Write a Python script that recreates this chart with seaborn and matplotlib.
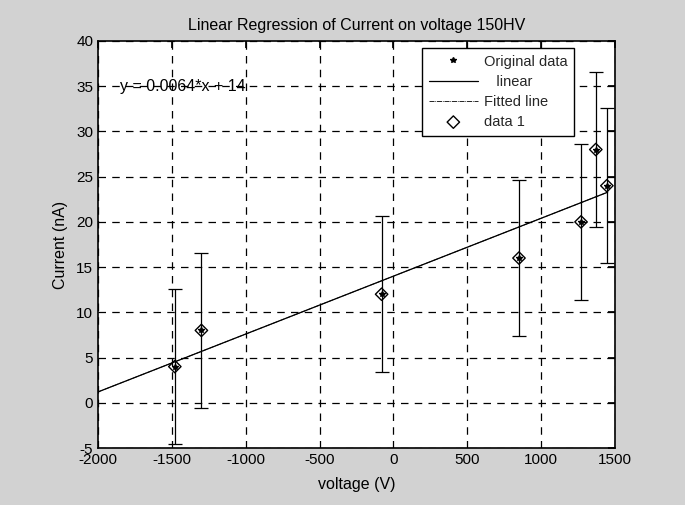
import matplotlib
matplotlib.use("Agg")
import matplotlib.pyplot as plt
import seaborn as sns
import pandas as pd

# Data
voltage = [-1480, -1300, -80, 850, 1270, 1370, 1445]
current = [4, 8, 12, 16, 20, 28, 24]
err = [8.6, 8.6, 8.6, 8.6, 8.6, 8.6, 8.6]
fit_x = [-2000, 1450]
slope = 0.0064
intercept = 14
x_ticks = [-2000, -1500, -1000, -500, 0, 500, 1000, 1500]
y_ticks = [-5, 0, 5, 10, 15, 20, 25, 30, 35, 40]

sns.set_theme(style="white")
plt.rcParams['font.family'] = ['Liberation Sans', 'DejaVu Sans']
plt.rcParams['axes.unicode_minus'] = False

df = pd.DataFrame({"voltage": voltage, "current": current})
fit_df = pd.DataFrame({"x": fit_x, "y": [slope * v + intercept for v in fit_x]})

fig = plt.figure(figsize=(6.85, 5.05), dpi=100, facecolor="#d2d2d2")
ax = fig.add_axes([98 / 685, (505 - 448) / 505, (615 - 98) / 685, (448 - 41) / 505])
ax.set_facecolor("white")

# original data (stars)
ax.plot(voltage, current, linestyle="none", marker="*", color="black", markersize=4,
        label="Original data")
# linear (solid)
sns.lineplot(data=fit_df, x="x", y="y", ax=ax, color="black", linewidth=0.9,
             label="   linear")
# fitted line (dash-dot)
ax.plot(fit_x, [slope * v + intercept for v in fit_x], color="black", linewidth=0.6,
        linestyle=(0, (6, 1, 1, 1)), label="Fitted line")
# error bars
ax.errorbar(voltage, current, yerr=err, fmt="none", ecolor="black", elinewidth=0.9,
            capsize=5, capthick=0.9)
sns.scatterplot(data=df, x="voltage", y="current", ax=ax, marker="D", s=40,
                facecolor="none", edgecolor="black", linewidth=1.0, label="data 1",
                zorder=5)

ax.set_xlim(-2000, 1500)
ax.set_ylim(-5, 40)
ax.set_xticks(x_ticks)
ax.set_yticks(y_ticks)
ax.grid(True, color="black", linestyle=(0, (6, 5)), linewidth=0.9)
ax.tick_params(direction="in", length=5, color="black", labelsize=11, top=True,
               right=True, pad=3.5, labelcolor="black")
for s in ax.spines.values():
    s.set_color("black")
    s.set_linewidth(1.2)

ax.set_title("Linear Regression of Current on voltage 150HV", fontsize=11.5, pad=8,
             color="black")
ax.set_xlabel("voltage (V)", fontsize=11.5, labelpad=7, color="black")
ax.set_ylabel("Current (nA)", fontsize=11.5, labelpad=6, color="black")
ax.text(-1850, 35, "y = 0.0064*x + 14", fontsize=11.5, va="center", ha="left",
        color="black")

leg = ax.legend(loc="upper left", bbox_to_anchor=((422 - 98) / 517, (448 - 48) / 407),
                borderaxespad=0, fontsize=10.5,
                frameon=True, fancybox=False, edgecolor="black", framealpha=1,
                handlelength=3.4, borderpad=0.45, labelspacing=0.42,
                handletextpad=0.4)
leg.get_frame().set_linewidth(1.0)

fig.savefig("out.png", dpi=100, facecolor=fig.get_facecolor())
